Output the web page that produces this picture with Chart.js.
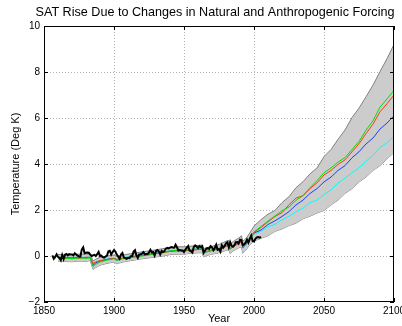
<!DOCTYPE html>
<html>
<head>
<meta charset="utf-8">
<script src="https://cdn.jsdelivr.net/npm/chart.js@4.4.1/dist/chart.umd.min.js"></script>
<style>
  html, body { margin: 0; padding: 0; background: #fff; overflow: hidden; width: 402px; height: 326px; }
  canvas { display: block; }
</style>
</head>
<body>
<canvas id="c" width="420" height="326"></canvas>
<script>
const titleText = 'SAT Rise Due to Changes in Natural and Anthropogenic Forcing';

// observed record, 1856-2005
const obsStart = 1856;
const obs = [
  0.03, -0.12, -0.04, 0.07, -0.04, -0.08, -0.18, 0.05, -0.13, 0.06,
  0.09, 0.03, 0.08, 0.07, 0.07, 0.03, 0.12, 0.06, 0.01, -0.02,
  -0.02, 0.28, 0.38, 0.12, 0.14, 0.15, 0.14, 0.06, 0.0, 0.03,
  0.05, 0.0, 0.08, 0.18, 0.0, 0.02, -0.05, -0.07, -0.02, 0.02,
  0.21, 0.23, 0.06, 0.17, 0.26, 0.19, 0.06, -0.02, -0.12, 0.06,
  0.13, -0.06, -0.09, -0.12, -0.08, -0.09, -0.01, 0.0, 0.19, 0.25,
  0.03, -0.08, 0.07, 0.08, 0.10, 0.17, 0.07, 0.09, 0.09, 0.15,
  0.27, 0.16, 0.17, 0.02, 0.21, 0.26, 0.20, 0.07, 0.22, 0.17,
  0.21, 0.32, 0.35, 0.33, 0.36, 0.39, 0.37, 0.36, 0.49, 0.38,
  0.24, 0.26, 0.24, 0.24, 0.17, 0.28, 0.36, 0.43, 0.23, 0.21,
  0.15, 0.39, 0.46, 0.41, 0.34, 0.43, 0.39, 0.43, 0.14, 0.24,
  0.32, 0.34, 0.31, 0.43, 0.38, 0.25, 0.35, 0.49, 0.27, 0.30,
  0.19, 0.47, 0.36, 0.44, 0.55, 0.60, 0.38, 0.60, 0.44, 0.40,
  0.47, 0.60, 0.61, 0.54, 0.71, 0.69, 0.47, 0.51, 0.58, 0.71,
  0.58, 0.74, 0.88, 0.65, 0.63, 0.75, 0.81, 0.82, 0.80, 0.83
];
const obsYears = obs.map((_, i) => obsStart + i);

// model runs
const modelYears = [
  1860, 1865, 1870, 1875, 1880, 1883, 1885, 1887, 1890, 1895,
  1900, 1902, 1904, 1908, 1912, 1916, 1920, 1925, 1930, 1935,
  1940, 1945, 1950, 1955, 1960, 1963, 1964, 1966, 1970, 1975,
  1980, 1982, 1983, 1985, 1990, 1991, 1992, 1994, 1997, 2000,
  2005, 2010, 2015, 2020, 2025, 2030, 2035, 2040, 2045, 2050,
  2055, 2060, 2065, 2070, 2075, 2080, 2085, 2090, 2095, 2100
];
const runRed = [
  -0.08, -0.12, -0.06, -0.10, -0.05, -0.06, -0.32, -0.26, -0.20, -0.15,
  -0.10, -0.15, -0.12, -0.10, -0.05, -0.03, 0.02, 0.05, 0.10, 0.14,
  0.20, 0.22, 0.22, 0.25, 0.28, 0.30, 0.16, 0.20, 0.25, 0.30,
  0.42, 0.48, 0.32, 0.40, 0.58, 0.62, 0.40, 0.50, 0.78, 1.02,
  1.24, 1.49, 1.72, 1.88, 2.23, 2.52, 2.62, 2.93, 3.18, 3.52,
  3.72, 3.98, 4.18, 4.53, 4.88, 5.32, 5.73, 6.27, 6.62, 7.00
];
const runGreen = [
  -0.10, -0.10, -0.12, -0.08, -0.10, -0.08, -0.46, -0.36, -0.26, -0.18,
  -0.12, -0.20, -0.15, -0.10, -0.08, -0.03, 0.00, 0.05, 0.10, 0.16,
  0.22, 0.25, 0.25, 0.28, 0.30, 0.30, 0.12, 0.18, 0.25, 0.33,
  0.46, 0.50, 0.32, 0.45, 0.63, 0.66, 0.40, 0.52, 0.80, 1.05,
  1.28, 1.52, 1.74, 1.97, 2.13, 2.42, 2.63, 2.97, 3.28, 3.62,
  3.83, 4.08, 4.28, 4.63, 4.98, 5.47, 5.88, 6.47, 6.83, 7.20
];
const runBlue = [
  -0.06, -0.08, -0.08, -0.06, -0.08, -0.06, -0.40, -0.30, -0.22, -0.15,
  -0.10, -0.18, -0.13, -0.08, -0.05, 0.00, 0.03, 0.07, 0.12, 0.17,
  0.21, 0.24, 0.24, 0.27, 0.29, 0.31, 0.14, 0.18, 0.24, 0.32,
  0.44, 0.47, 0.30, 0.42, 0.60, 0.63, 0.36, 0.48, 0.76, 1.00,
  1.13, 1.37, 1.53, 1.72, 1.93, 2.22, 2.43, 2.72, 2.93, 3.22,
  3.43, 3.72, 3.93, 4.27, 4.53, 4.87, 5.13, 5.52, 5.78, 6.10
];
const runCyan = [
  -0.05, -0.07, -0.06, -0.05, -0.06, -0.04, -0.36, -0.28, -0.20, -0.12,
  -0.08, -0.16, -0.10, -0.06, -0.02, 0.02, 0.05, 0.09, 0.14, 0.18,
  0.22, 0.26, 0.26, 0.29, 0.31, 0.33, 0.16, 0.20, 0.26, 0.33,
  0.44, 0.49, 0.32, 0.42, 0.60, 0.62, 0.38, 0.48, 0.75, 0.95,
  1.08, 1.27, 1.38, 1.57, 1.73, 1.92, 2.08, 2.32, 2.43, 2.67,
  2.88, 3.17, 3.38, 3.62, 3.83, 4.12, 4.38, 4.72, 4.93, 5.20
];
const bandHigh = [
  0.07, 0.05, 0.07, 0.08, 0.08, 0.09, -0.22, -0.14, -0.06, 0.00,
  0.04, -0.02, 0.02, 0.06, 0.10, 0.14, 0.18, 0.22, 0.27, 0.32,
  0.36, 0.40, 0.40, 0.43, 0.46, 0.48, 0.32, 0.36, 0.42, 0.50,
  0.64, 0.68, 0.52, 0.62, 0.82, 0.88, 0.64, 0.74, 1.00, 1.30,
  1.58, 1.82, 1.98, 2.32, 2.58, 2.97, 3.23, 3.57, 3.83, 4.32,
  4.63, 5.07, 5.48, 6.02, 6.43, 6.92, 7.43, 8.02, 8.58, 9.20
];
const bandLow = [
  -0.22, -0.24, -0.25, -0.22, -0.23, -0.20, -0.58, -0.50, -0.40, -0.32,
  -0.26, -0.34, -0.30, -0.24, -0.20, -0.16, -0.12, -0.08, -0.04, 0.00,
  0.06, 0.08, 0.08, 0.12, 0.14, 0.14, -0.04, 0.02, 0.08, 0.14,
  0.24, 0.28, 0.10, 0.22, 0.38, 0.40, 0.12, 0.24, 0.50, 0.65,
  0.77, 0.88, 1.07, 1.18, 1.32, 1.43, 1.62, 1.73, 1.87, 1.98,
  2.22, 2.43, 2.72, 2.93, 3.22, 3.43, 3.72, 3.93, 4.22, 4.50
];

const xTicks = [1850, 1900, 1950, 2000, 2050, 2100];
const yTicks = [-2, 0, 2, 4, 6, 8, 10];

const pts = (xs, ys) => xs.map((x, i) => ({ x: x, y: ys[i] }));
const FONT = '"Liberation Sans", Arial, Helvetica, sans-serif';

function line(data, color, width) {
  return { data: data, borderColor: color, borderWidth: width, pointRadius: 0, fill: false, tension: 0 };
}

// box, inside ticks and title, matlab style
const frame = {
  id: 'frame',
  afterDraw(chart) {
    const { ctx, chartArea: a, scales } = chart;
    ctx.save();
    ctx.strokeStyle = '#000';
    ctx.lineWidth = 1;
    ctx.strokeRect(a.left + 0.5, a.top + 0.5, a.width - 1, a.height - 1);
    ctx.beginPath();
    xTicks.forEach(v => {
      const px = Math.round(scales.x.getPixelForValue(v)) + 0.5;
      ctx.moveTo(px, a.bottom); ctx.lineTo(px, a.bottom - 4);
      ctx.moveTo(px, a.top); ctx.lineTo(px, a.top + 4);
    });
    yTicks.forEach(v => {
      const py = Math.round(scales.y.getPixelForValue(v)) + 0.5;
      ctx.moveTo(a.left, py); ctx.lineTo(a.left + 4, py);
      ctx.moveTo(a.right, py); ctx.lineTo(a.right - 4, py);
    });
    ctx.stroke();
    ctx.fillStyle = '#000';
    ctx.font = '12.6px ' + FONT;
    ctx.textAlign = 'center';
    ctx.textBaseline = 'middle';
    ctx.fillText(titleText, 215, 13);
    ctx.restore();
  }
};

const edge = (vals) => (c) => (c.tick && (c.tick.value === vals[0] || c.tick.value === vals[vals.length - 1])) ? 'rgba(0,0,0,0)' : '#b4b4b4';

new Chart(document.getElementById('c'), {
  type: 'line',
  data: {
    datasets: [
      line(pts(obsYears, obs), '#000000', 2),
      line(pts(modelYears, runGreen), '#00e000', 1),
      line(pts(modelYears, runRed), '#ff3a10', 1),
      line(pts(modelYears, runBlue), '#1f3fff', 1),
      line(pts(modelYears, runCyan), '#00ffff', 1),
      Object.assign(line(pts(modelYears, bandHigh), '#808080', 1), { fill: '+1', backgroundColor: 'rgb(204,204,204)' }),
      line(pts(modelYears, bandLow), '#808080', 1)
    ]
  },
  options: {
    responsive: false,
    animation: false,
    layout: { padding: { left: 0, right: 26, top: 26, bottom: 0 } },
    plugins: { legend: { display: false }, tooltip: { enabled: false }, title: { display: false } },
    scales: {
      x: {
        type: 'linear', min: 1850, max: 2100,
        afterBuildTicks: (s) => { s.ticks = xTicks.map(v => ({ value: v })); },
        afterFit: (s) => { s.height = 24; },
        grid: { drawTicks: false, color: edge(xTicks), lineWidth: 1, borderDash: [1, 2] },
        border: { display: false, dash: [1, 2] },
        ticks: { padding: 3, color: '#000', font: { family: FONT, size: 10 }, maxRotation: 0, callback: (v) => String(v) },
        title: { display: true, text: 'Year', color: '#000', font: { family: FONT, size: 11 }, padding: { top: 0, bottom: 0 } }
      },
      y: {
        min: -2, max: 10,
        afterBuildTicks: (s) => { s.ticks = yTicks.map(v => ({ value: v })); },
        afterFit: (s) => { s.width = 44; },
        grid: { drawTicks: false, color: edge(yTicks), lineWidth: 1, borderDash: [1, 2] },
        border: { display: false, dash: [1, 2] },
        ticks: { padding: 4, color: '#000', font: { family: FONT, size: 10 }, callback: (v) => (v < 0 ? '\u2212' + Math.abs(v) : String(v)) },
        title: { display: true, text: 'Temperature (Deg K)', color: '#000', font: { family: FONT, size: 11 }, padding: { top: 9, bottom: 0 } }
      }
    }
  },
  plugins: [frame]
});
</script>
</body>
</html>
